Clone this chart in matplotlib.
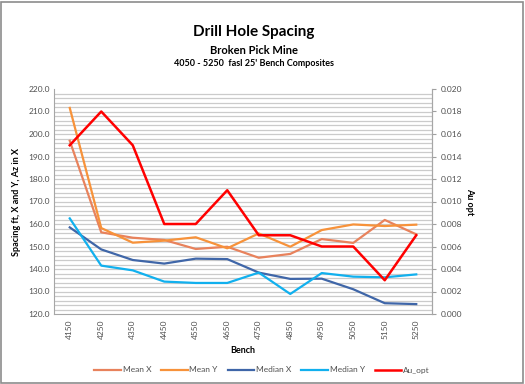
import numpy as np
import matplotlib.pyplot as plt
from matplotlib.ticker import MultipleLocator, FormatStrFormatter

plt.rcParams['font.family'] = ['Lato', 'DejaVu Sans']

benches = ["4150", "4250", "4350", "4450", "4550", "4650",
           "4750", "4850", "4950", "5050", "5150", "5250"]
mean_x = [197.0, 156.3, 153.9, 152.9, 148.9, 149.9, 145.0, 146.7, 153.3, 151.6, 161.8, 155.4]
mean_y = [211.6, 158.2, 151.7, 152.6, 154.1, 149.2, 155.8, 149.9, 157.3, 159.8, 159.1, 159.7]
median_x = [158.5, 148.7, 144.0, 142.4, 144.6, 144.4, 138.4, 135.6, 135.7, 131.0, 124.8, 124.4]
median_y = [162.5, 141.5, 139.4, 134.4, 133.8, 133.8, 138.4, 128.9, 138.2, 136.6, 136.3, 137.6]
au_opt = [0.015, 0.018, 0.015, 0.008, 0.008, 0.011, 0.007, 0.007, 0.006, 0.006, 0.003, 0.007]

W, H = 525, 384
fig = plt.figure(figsize=(W / 100, H / 100), dpi=100)
fig.patches.append(plt.Rectangle((0.002, 0.003), 0.995, 0.993, transform=fig.transFigure,
                                 fill=False, edgecolor="#8c8c8c", linewidth=1.2))

ax = fig.add_axes([54 / W, 1 - 314 / H, (432 - 54) / W, (314 - 89) / H])
x = np.arange(len(benches))

ax.plot(x, mean_x, color="#E8825C", lw=1.6, label="Mean X")
ax.plot(x, mean_y, color="#F7923A", lw=1.6, label="Mean Y")
ax.plot(x, median_x, color="#3F66A8", lw=1.6, label="Median X")
ax.plot(x, median_y, color="#11B0EE", lw=1.6, label="Median Y")

ax2 = ax.twinx()
ax2.plot(x, au_opt, color="#FF0000", lw=1.8, label="Au_opt")

ax.set_xlim(-0.5, len(benches) - 0.5)
ax.set_ylim(120, 220)
ax2.set_ylim(0, 0.020)

# grid every 2 ft
for v in np.arange(122, 220, 2):
    ax.axhline(v, color="#cbcbcb", lw=0.9, zorder=0)

ax.set_xticks(x)
ax.set_xticklabels(benches, rotation=90, fontsize=6, color="#505050")
ax.yaxis.set_major_locator(MultipleLocator(10))
ax.yaxis.set_major_formatter(FormatStrFormatter("%.1f"))
ax2.yaxis.set_major_locator(MultipleLocator(0.002))
ax2.yaxis.set_major_formatter(FormatStrFormatter("%.3f"))
ax.tick_params(axis="y", labelsize=6, colors="#505050", length=0, pad=3)
ax.tick_params(axis="x", length=0, pad=4)
ax2.tick_params(axis="y", labelsize=6, colors="#505050", length=3, color="#a0a0a0", pad=3)

for a in (ax, ax2):
    for s in a.spines.values():
        s.set_color("#a6a6a6")
        s.set_linewidth(0.8)
    a.spines["top"].set_visible(False)
ax2.spines["left"].set_visible(False)
ax2.spines["bottom"].set_visible(False)

ax.set_xlabel("Bench", fontsize=6.5, fontweight="bold", labelpad=5)
ax.set_ylabel("Spacing ft, X and Y, Az in X", fontsize=6.5, fontweight="bold", labelpad=5)
ax2.set_ylabel("Au opt", fontsize=6.5, fontweight="bold", rotation=270, va="center")
ax2.yaxis.set_label_coords((470 - 54) / 378, 0.5)

fig.text(254 / W, 1 - 32 / H, "Drill Hole Spacing", ha="center", va="center",
         fontsize=11, fontweight="bold")
fig.text(254 / W, 1 - 50 / H, "Broken Pick Mine", ha="center", va="center",
         fontsize=8, fontweight="bold")
fig.text(254 / W, 1 - 63 / H, "4050 - 5250  fasl 25' Bench Composites", ha="center",
         va="center", fontsize=6.5, fontweight="bold")

h1, l1 = ax.get_legend_handles_labels()
h2, l2 = ax2.get_legend_handles_labels()
fig.legend(h1 + h2, l1 + l2, loc="center", bbox_to_anchor=(262 / W, 1 - 370 / H),
           ncol=5, frameon=False, fontsize=6, handlelength=3.2, columnspacing=1.2,
           handletextpad=0.2, labelcolor="#505050")

fig.savefig("out.png", dpi=100)
